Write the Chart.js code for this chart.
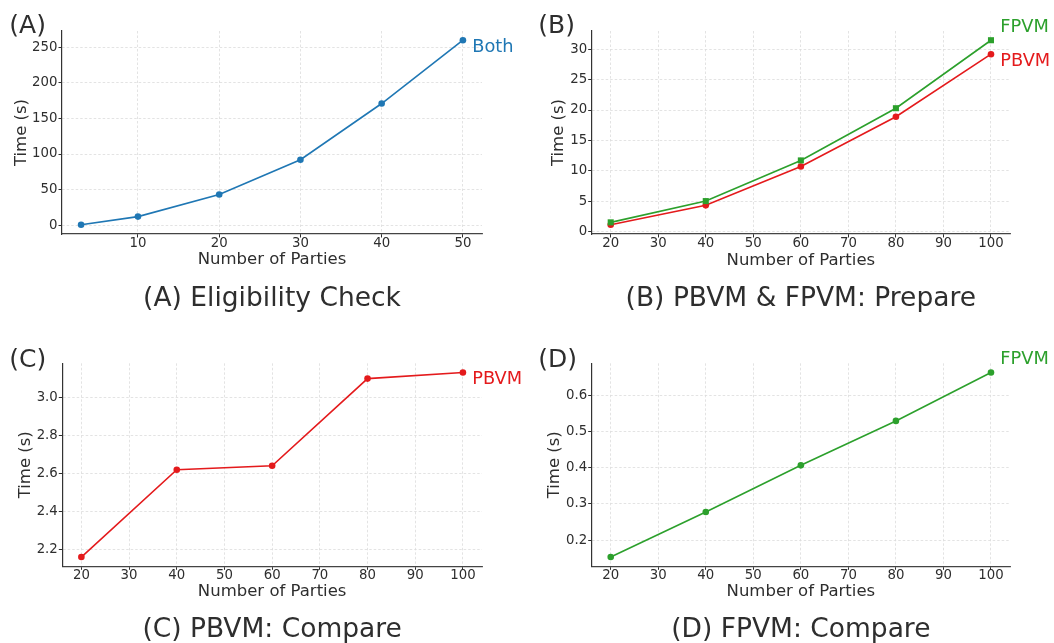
<!DOCTYPE html>
<html><head><meta charset="utf-8">
<script src="https://cdn.jsdelivr.net/npm/chart.js@4.4.0/dist/chart.umd.min.js"></script>
<style>
html,body{margin:0;padding:0;background:#fff;width:1054px;height:643px;overflow:hidden;}
canvas{position:absolute;}
</style></head><body>
<canvas id="cA" width="527" height="322" style="left:0;top:0"></canvas>
<canvas id="cB" width="527" height="322" style="left:527px;top:0"></canvas>
<canvas id="cC" width="527" height="321" style="left:0;top:322px"></canvas>
<canvas id="cD" width="527" height="321" style="left:527px;top:322px"></canvas>
<script>
// ---- data ----
const partiesA = [3, 10, 20, 30, 40, 50];
const eligibilityBoth = [0.5, 12, 43, 92, 171, 260];
const parties = [20, 40, 60, 80, 100];
const prepareFPVM = [1.5, 5.0, 11.7, 20.3, 31.5];
const preparePBVM = [1.1, 4.3, 10.7, 18.9, 29.2];
const comparePBVM = [2.158, 2.62, 2.641, 3.102, 3.134];
const compareFPVM = [0.153, 0.278, 0.407, 0.530, 0.664];

const xTicksA = [10, 20, 30, 40, 50];
const xTickLabelsA = ['10', '20', '30', '40', '50'];
const xTicksB = [20, 30, 40, 50, 60, 70, 80, 90, 100];
const xTickLabelsB = ['20', '30', '40', '50', '60', '70', '80', '90', '100'];
const yTicksA = [0, 50, 100, 150, 200, 250];
const yTickLabelsA = ['0', '50', '100', '150', '200', '250'];
const yTicksB = [0, 5, 10, 15, 20, 25, 30];
const yTickLabelsB = ['0', '5', '10', '15', '20', '25', '30'];
const yTicksC = [2.2, 2.4, 2.6, 2.8, 3.0];
const yTickLabelsC = ['2.2', '2.4', '2.6', '2.8', '3.0'];
const yTicksD = [0.2, 0.3, 0.4, 0.5, 0.6];
const yTickLabelsD = ['0.2', '0.3', '0.4', '0.5', '0.6'];

const panelLetters = ['(A)', '(B)', '(C)', '(D)'];
const captions = ['(A) Eligibility Check', '(B) PBVM & FPVM: Prepare', '(C) PBVM: Compare', '(D) FPVM: Compare'];
const xTitle = 'Number of Parties';
const yTitle = 'Time (s)';

// ---- style ----
const BLUE = '#1f77b4', GREEN = '#2ca02c', RED = '#e41a1c', TXT = '#2e2e2e';
const FONT = '"DejaVu Sans", "Liberation Sans", sans-serif';

function margins(vals) {
  const lo = Math.min(...vals), hi = Math.max(...vals), m = (hi - lo) * 0.05;
  return [lo - m, hi + m];
}

const annot = {
  id: 'annot',
  afterDraw(chart, args, o) {
    const ctx = chart.ctx, a = chart.chartArea;
    ctx.save();
    ctx.fillStyle = TXT;
    ctx.textBaseline = 'alphabetic';
    ctx.font = '25px ' + FONT;
    ctx.textAlign = 'left';
    ctx.fillText(o.letter, o.letterX, o.letterY);
    ctx.font = '26.5px ' + FONT;
    ctx.textAlign = 'center';
    ctx.fillText(o.caption, (a.left + a.right) / 2, o.captionY);
    ctx.font = '17.8px ' + FONT;
    ctx.textAlign = 'left';
    chart.data.datasets.forEach((ds, i) => {
      const meta = chart.getDatasetMeta(i);
      const pt = meta.data[meta.data.length - 1];
      ctx.fillStyle = ds.borderColor;
      ctx.fillText(ds.label, pt.x + 9.3, pt.y + o.endDy[i]);
    });
    ctx.restore();
  }
};

function series(label, xs, ys, color, style) {
  return {
    label, data: xs.map((x, i) => ({x, y: ys[i]})),
    borderColor: color, backgroundColor: color, borderWidth: 1.6,
    pointStyle: style, pointRadius: style === 'rect' ? 4.3 : 3.3, pointBorderWidth: 0,
    tension: 0, clip: false
  };
}

function panel(id, L, datasets, xs, xTicks, xLabels, yVals, yTicks, yLabels, ann) {
  const [xmin, xmax] = margins(xs);
  const [ymin, ymax] = margins(yVals);
  const cv = document.getElementById(id);
  const W = cv.width, H = cv.height;
  const gridCommon = {color: '#dcdcdc', lineWidth: 0.8, tickLength: 3.5, tickColor: TXT, tickWidth: 1, tickBorderDash: []};
  new Chart(cv, {
    type: 'line',
    data: {datasets},
    options: {
      responsive: false, animation: false, devicePixelRatio: 1,
      layout: {padding: {left: 0, top: L.top, right: W - L.right, bottom: 0}},
      plugins: {legend: {display: false}, tooltip: {enabled: false}, annot: ann},
      scales: {
        x: {
          type: 'linear', min: xmin, max: xmax,
          afterFit: s => { s.height = H - L.bottom; },
          afterBuildTicks: s => { s.ticks = xTicks.map(v => ({value: v})); },
          grid: gridCommon,
          border: {display: true, color: '#444', width: 1.2, dash: [2.5, 2]},
          ticks: {color: TXT, font: {family: FONT, size: 13.3}, padding: -2, maxRotation: 0,
                  callback: (v, i) => xLabels[i]},
          title: {display: true, text: xTitle, color: TXT, font: {family: FONT, size: 16.5},
                  padding: {top: 0, bottom: L.xtPad}}
        },
        y: {
          type: 'linear', min: ymin, max: ymax,
          afterFit: s => { s.width = L.left; },
          afterBuildTicks: s => { s.ticks = yTicks.map(v => ({value: v})); },
          grid: gridCommon,
          border: {display: true, color: '#333', width: 1.2, dash: [2.5, 2]},
          ticks: {color: TXT, font: {family: FONT, size: 13.3}, padding: 1,
                  callback: (v, i) => yLabels[i]},
          title: {display: true, text: yTitle, color: TXT, font: {family: FONT, size: 16.5},
                  padding: {top: L.ytPad, bottom: 0}}
        }
      }
    },
    plugins: [annot]
  });
}

panel('cA', {left: 62, right: 482, top: 31, bottom: 234, xtPad: 52.2, ytPad: 11.8},
  [series('Both', partiesA, eligibilityBoth, BLUE, 'circle')],
  partiesA, xTicksA, xTickLabelsA, eligibilityBoth, yTicksA, yTickLabelsA,
  {letter: panelLetters[0], letterX: 9.3, letterY: 33.3, caption: captions[0], captionY: 306, endDy: [12]});

panel('cB', {left: 64.7, right: 483, top: 31, bottom: 234, xtPad: 51.5, ytPad: 22.2},
  [series('FPVM', parties, prepareFPVM, GREEN, 'rect'), series('PBVM', parties, preparePBVM, RED, 'circle')],
  parties, xTicksB, xTickLabelsB, prepareFPVM.concat(preparePBVM), yTicksB, yTickLabelsB,
  {letter: panelLetters[1], letterX: 11.3, letterY: 33.3, caption: captions[1], captionY: 306, endDy: [-8.3, 11.7]});

panel('cC', {left: 62.3, right: 482, top: 41.3, bottom: 244.3, xtPad: 41.2, ytPad: 15.8},
  [series('PBVM', parties, comparePBVM, RED, 'circle')],
  parties, xTicksB, xTickLabelsB, comparePBVM, yTicksC, yTickLabelsC,
  {letter: panelLetters[2], letterX: 9.3, letterY: 44.7, caption: captions[2], captionY: 315, endDy: [11.7]});

panel('cD', {left: 64.7, right: 483, top: 41.3, bottom: 244.3, xtPad: 41.2, ytPad: 17.8},
  [series('FPVM', parties, compareFPVM, GREEN, 'circle')],
  parties, xTicksB, xTickLabelsB, compareFPVM, yTicksD, yTickLabelsD,
  {letter: panelLetters[3], letterX: 11.3, letterY: 44.7, caption: captions[3], captionY: 315, endDy: [-8.4]});
</script>
</body></html>
